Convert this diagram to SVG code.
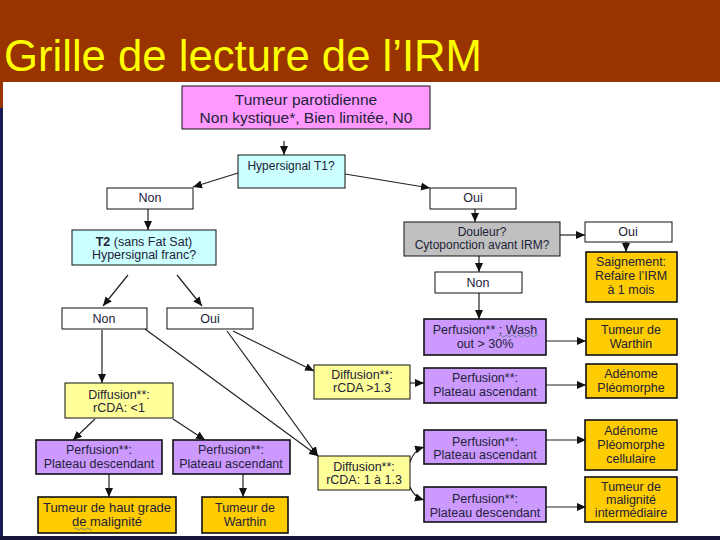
<svg xmlns="http://www.w3.org/2000/svg" width="720" height="540" viewBox="0 0 720 540">
<style>
  text { font-family: "Liberation Sans", Arial, sans-serif; font-size: 12.5px; fill: #222238; text-anchor: middle; }
  .title { font-size: 44px; fill: #FFFF00; text-anchor: start; }
  .big { font-size: 15.5px; }
  .b { stroke: #111; stroke-width: 1; }
  .bt { stroke: #111; stroke-width: 1.6; }
  .pink { fill: #FF99FF; }
  .cyan { fill: #CCFFFF; }
  .white { fill: #FFFFFF; }
  .yellow { fill: #FFFF99; }
  .purple { fill: #CC99FF; }
  .orange { fill: #FFCC00; }
  .gray { fill: #C0C0C0; }
  .conn path, .conn line { fill: none; stroke: #222; stroke-width: 1.2; marker-end: url(#arr); }
  .squig { fill: none; stroke: #5d7f8f; stroke-width: 0.9; }
</style>
<defs>
  <marker id="arr" markerUnits="userSpaceOnUse" markerWidth="10" markerHeight="10" refX="9" refY="5" orient="auto">
    <path d="M0,1 L9,5 L0,9 Z" fill="#111"/>
  </marker>
</defs>

<!-- background -->
<rect x="0" y="0" width="720" height="540" fill="#FFFFFF"/>
<rect x="0" y="0" width="720" height="82" fill="#993300"/>
<rect x="0" y="82" width="3" height="26" fill="#993300"/>
<rect x="0" y="108" width="3" height="432" fill="#1a1a55"/>
<rect x="0" y="536" width="720" height="4" fill="#15153a"/>
<text class="title" x="4" y="71" textLength="478" lengthAdjust="spacingAndGlyphs">Grille de lecture de l’IRM</text>

<!-- connectors -->
<g id="connectors" class="conn">
  <line x1="284" y1="141" x2="284" y2="155"/>
  <line x1="238" y1="173" x2="193" y2="187"/>
  <line x1="345" y1="174" x2="430" y2="188"/>
  <line x1="148" y1="209" x2="148" y2="230"/>
  <line x1="128" y1="275" x2="103" y2="306"/>
  <line x1="177" y1="275" x2="202" y2="306"/>
  <line x1="102" y1="330" x2="102" y2="383"/>
  <line x1="145" y1="329" x2="318" y2="456"/>
  <line x1="227" y1="331" x2="318" y2="456"/>
  <line x1="233" y1="331" x2="314" y2="371"/>
  <line x1="95" y1="419" x2="73" y2="440"/>
  <line x1="173" y1="419" x2="205" y2="440"/>
  <line x1="109" y1="474" x2="109" y2="497"/>
  <line x1="243" y1="474" x2="243" y2="497"/>
  <line x1="475" y1="209" x2="475" y2="222"/>
  <line x1="560" y1="235" x2="585" y2="235"/>
  <line x1="626" y1="242" x2="626" y2="252"/>
  <line x1="479" y1="256" x2="479" y2="272"/>
  <line x1="479" y1="293" x2="479" y2="319"/>
  <line x1="546" y1="341" x2="586" y2="341"/>
  <line x1="410" y1="383" x2="424" y2="383"/>
  <line x1="546" y1="385" x2="586" y2="385"/>
  <path d="M410,462 Q414,450 424,447"/>
  <path d="M410,487 Q414,497 424,500"/>
  <line x1="546" y1="440" x2="586" y2="440"/>
  <line x1="546" y1="507" x2="586" y2="507"/>
</g>

<!-- nodes -->
<g id="n-tumeur">
  <rect class="pink b" x="182" y="86" width="248" height="43"/>
  <text class="big" x="306" y="105">Tumeur parotidienne</text>
  <text class="big" x="306" y="123">Non kystique*, Bien limitée, N0</text>
</g>
<g id="n-hypert1">
  <rect class="cyan b" x="238" y="155" width="107" height="33"/>
  <text x="291" y="170" style="font-size:12px">Hypersignal T1?</text>
</g>
<g id="n-non1">
  <rect class="white b" x="107" y="188" width="86" height="21"/>
  <text x="150" y="202">Non</text>
</g>
<g id="n-oui1">
  <rect class="white b" x="430" y="188" width="86" height="21"/>
  <text x="473" y="202">Oui</text>
</g>
<g id="n-t2">
  <rect class="cyan b" x="72" y="230" width="144" height="35"/>
  <text x="144" y="246"><tspan font-weight="bold">T2</tspan> (sans Fat Sat)</text>
  <text x="144" y="259">Hypersignal franc?</text>
</g>
<g id="n-non2">
  <rect class="white b" x="62" y="308" width="85" height="21"/>
  <text x="104" y="323">Non</text>
</g>
<g id="n-oui2">
  <rect class="white b" x="167" y="308" width="86" height="21"/>
  <text x="210" y="323">Oui</text>
</g>
<g id="n-diff-lt1">
  <rect class="yellow b" x="65" y="383" width="108" height="35"/>
  <text x="119" y="399">Diffusion**:</text>
  <text x="119" y="412">rCDA:  &lt;1</text>
</g>
<g id="n-perf-desc-l">
  <rect class="purple bt" x="36" y="440" width="126" height="34"/>
  <text x="99" y="454">Perfusion**:</text>
  <text x="99" y="468">Plateau descendant</text>
</g>
<g id="n-perf-asc-l">
  <rect class="purple bt" x="173" y="440" width="117" height="34"/>
  <text x="231" y="454">Perfusion**:</text>
  <text x="231" y="468">Plateau ascendant</text>
</g>
<g id="n-haut-grade">
  <rect class="orange bt" x="38" y="497" width="138" height="36"/>
  <text x="107" y="512" style="font-size:13px">Tumeur de haut grade</text>
  <text x="107" y="526" style="font-size:13px">de malignité</text>
  <path class="squig" d="M74,529 q1.5,-2 3,0 t3,0 t3,0 t3,0 t3,0 t3,0"/>
</g>
<g id="n-warthin-l">
  <rect class="orange bt" x="202" y="497" width="86" height="36"/>
  <text x="245" y="512">Tumeur de</text>
  <text x="245" y="526">Warthin</text>
</g>
<g id="n-diff-gt13">
  <rect class="yellow b" x="314" y="365" width="96" height="34"/>
  <text x="362" y="379">Diffusion**:</text>
  <text x="362" y="392">rCDA &gt;1.3</text>
</g>
<g id="n-diff-1-13">
  <rect class="yellow b" x="318" y="456" width="92" height="34"/>
  <text x="364" y="471">Diffusion**:</text>
  <text x="364" y="484">rCDA: 1 à 1.3</text>
</g>
<g id="n-douleur">
  <rect class="gray b" x="404" y="222" width="156" height="34"/>
  <text x="482" y="236" style="font-size:12px">Douleur?</text>
  <text x="482" y="249" style="font-size:12px">Cytoponction avant IRM?</text>
</g>
<g id="n-oui3">
  <rect class="white b" x="585" y="222" width="87" height="20"/>
  <text x="628" y="236">Oui</text>
</g>
<g id="n-saignement">
  <rect class="orange bt" x="586" y="252" width="91" height="50"/>
  <text x="631" y="266">Saignement:</text>
  <text x="631" y="280">Refaire l’IRM</text>
  <text x="631" y="294">à 1 mois</text>
</g>
<g id="n-non3">
  <rect class="white b" x="435" y="272" width="87" height="21"/>
  <text x="478" y="287">Non</text>
</g>
<g id="n-perf-wash">
  <rect class="purple bt" x="424" y="319" width="122" height="36"/>
  <text x="485" y="334">Perfusion** :  Wash</text>
  <text x="485" y="348">out &gt; 30%</text>
  <path class="squig" d="M499,336 q1.5,-2 3,0 t3,0 t3,0 t3,0 t3,0 t3,0 t3,0 t3,0 t3,0 t3,0 t3,0 t3,0 t3,0"/>
</g>
<g id="n-warthin-r">
  <rect class="orange bt" x="586" y="319" width="91" height="36"/>
  <text x="631" y="334">Tumeur de</text>
  <text x="631" y="348">Warthin</text>
</g>
<g id="n-perf-asc-r1">
  <rect class="purple bt" x="424" y="368" width="122" height="35"/>
  <text x="485" y="382">Perfusion**:</text>
  <text x="485" y="396">Plateau ascendant</text>
</g>
<g id="n-adenome">
  <rect class="orange bt" x="586" y="364" width="91" height="34"/>
  <text x="631" y="378">Adénome</text>
  <text x="631" y="392">Pléomorphe</text>
</g>
<g id="n-perf-asc-r2">
  <rect class="purple bt" x="424" y="430" width="122" height="34"/>
  <text x="485" y="446">Perfusion**:</text>
  <text x="485" y="459">Plateau ascendant</text>
</g>
<g id="n-adenome-cell">
  <rect class="orange bt" x="585" y="420" width="92" height="50"/>
  <text x="631" y="435">Adénome</text>
  <text x="631" y="449">Pléomorphe</text>
  <text x="631" y="463">cellulaire</text>
</g>
<g id="n-perf-desc-r">
  <rect class="purple bt" x="424" y="487" width="122" height="35"/>
  <text x="485" y="503">Perfusion**:</text>
  <text x="485" y="517">Plateau descendant</text>
</g>
<g id="n-malignite-int">
  <rect class="orange bt" x="585" y="477" width="92" height="45"/>
  <text x="631" y="491">Tumeur de</text>
  <text x="631" y="504">malignité</text>
  <text x="631" y="517">intermédiaire</text>
</g>
</svg>
